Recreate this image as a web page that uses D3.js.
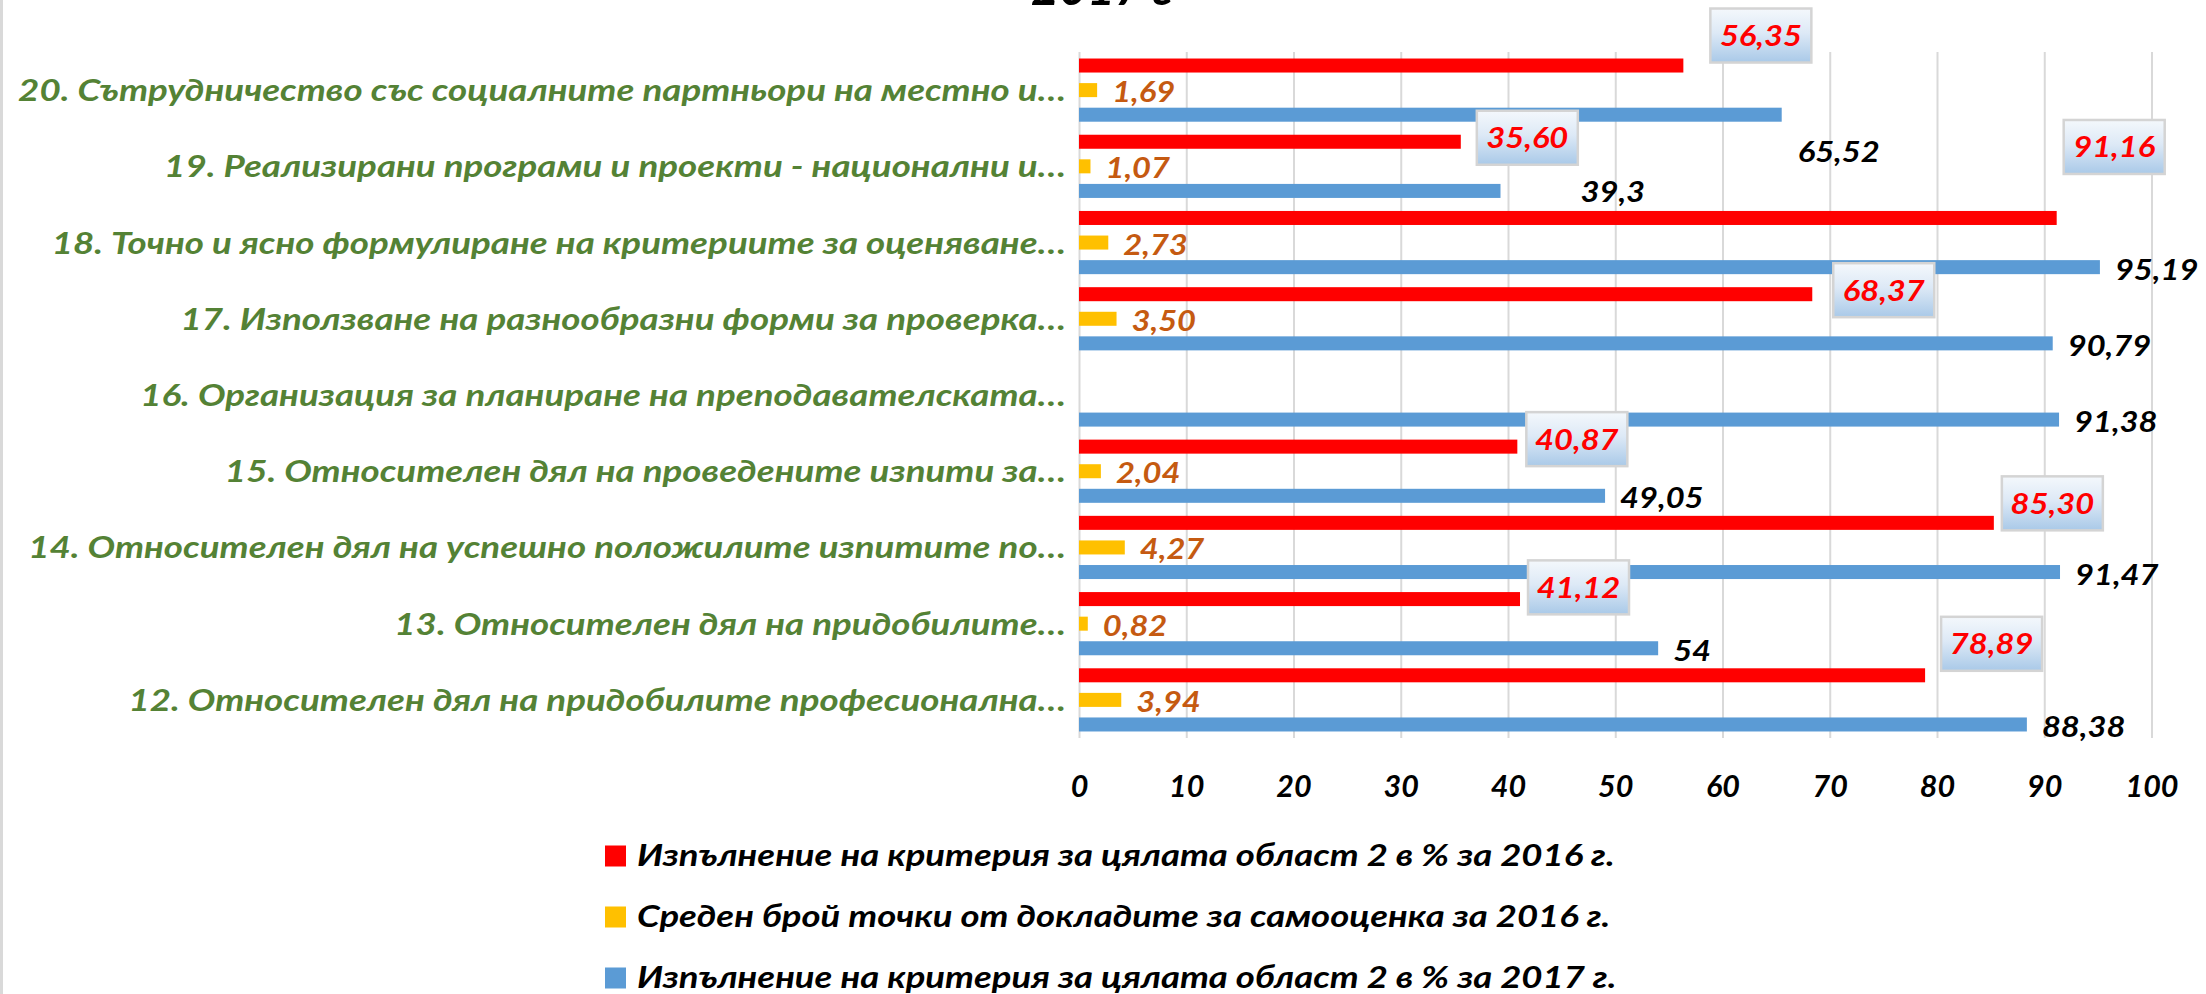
<!DOCTYPE html>
<html>
<head>
<meta charset="utf-8">
<script src="https://cdn.jsdelivr.net/npm/d3@7"></script>
<style>
  body { margin: 0; background: #fff; }
  svg text { font-family: Lato, "Open Sans", sans-serif; font-weight: bold; font-style: italic; }
</style>
</head>
<body>
<svg id="chart"></svg>
<script>
// categories, top to bottom
var categories = [
    "20. Сътрудничество със социалните партньори на местно и…",
    "19. Реализирани програми и проекти - национални и…",
    "18. Точно и ясно формулиране на критериите за оценяване…",
    "17. Използване на разнообразни форми за проверка…",
    "16. Организация за планиране на преподавателската…",
    "15. Относителен дял на проведените изпити за…",
    "14. Относителен дял на успешно положилите изпитите по…",
    "13. Относителен дял на придобилите…",
    "12. Относителен дял на придобилите професионална…"
];
var criteria2016 = [56.35, 35.60, 91.16, 68.37, null, 40.87, 85.30, 41.12, 78.89];
var points2016   = [1.69, 1.07, 2.73, 3.50, null, 2.04, 4.27, 0.82, 3.94];
var criteria2017 = [65.52, 39.3, 95.19, 90.79, 91.38, 49.05, 91.47, 54, 88.38];
var seriesNames = [
    "Изпълнение на критерия за цялата област 2 в % за 2016 г.",
    "Среден брой точки от докладите за самооценка за 2016 г.",
    "Изпълнение на критерия за цялата област 2 в % за 2017 г."
];
var xTicks = [0, 10, 20, 30, 40, 50, 60, 70, 80, 90, 100];
var titleText = "2017 г";

// hand placed labels (dx from bar end, dy from bar centre)
var redLabelShift = [[27, -30], [16, -4], [7, -71], [21, -4], null, [9, -7.5], [8, -19.5], [8, -11.7], [16, -31.5]];
var blueLabelShift = [[16, 37], [80, 1]];

var W = 2206, H = 994;
var colors = ["#ff0000", "#ffc000", "#5b9bd5"];

var svg = d3.select("svg#chart")
    .attr("width", W)
    .attr("height", H);

var x = d3.scaleLinear().domain([0, 100]).range([1079, 2151.5]);
var y = d3.scaleBand().domain(d3.range(categories.length)).range([52, 738]);
var sub = d3.scaleBand().domain([0, 1, 2]).range([0, y.bandwidth()])
    .paddingInner(0.43).paddingOuter(0.265);

var comma = function(s) { return s.replace(".", ","); };
var fmt2 = function(v) { return comma(d3.format(".2f")(v)); };

// the source font is wider than Lato, so stretch text sideways
// to the widths measured on the reference
function stretch(sel, sample, target) {
    var k = target / sample.node().getComputedTextLength();
    sel.each(function() {
        var t = d3.select(this);
        var px = +t.attr("x"), py = +t.attr("y");
        t.attr("x", 0).attr("y", 0)
            .attr("transform", "translate(" + px + "," + py + ") scale(" + k + ",1)");
    });
}

// gradient for the red label boxes
var grad = svg.append("defs").append("linearGradient")
    .attr("id", "boxGrad").attr("x1", 0).attr("y1", 0).attr("x2", 0).attr("y2", 1);
grad.append("stop").attr("offset", "0%").attr("stop-color", "#f4f8fc");
grad.append("stop").attr("offset", "45%").attr("stop-color", "#dde9f6");
grad.append("stop").attr("offset", "100%").attr("stop-color", "#a9c9e8");

// chart border on the left
svg.append("line").attr("x1", 1.5).attr("x2", 1.5).attr("y1", 0).attr("y2", H)
    .attr("stroke", "#d9d9d9").attr("stroke-width", 3);

// title (mostly cut off at the top)
var title = svg.append("text")
    .attr("x", 1031).attr("y", 5)
    .attr("font-size", 48)
    .attr("fill", "#000")
    .text(titleText);
stretch(title, title, 142);

// grid + tick labels
var xAxis = svg.append("g")
    .attr("transform", "translate(0,738)")
    .call(d3.axisBottom(x).tickValues(xTicks).tickSize(-686).tickFormat(d3.format("d")));
xAxis.select(".domain").remove();
xAxis.selectAll(".tick line").attr("stroke", "#d9d9d9").attr("stroke-width", 2);
var tickText = xAxis.selectAll(".tick text")
    .attr("y", 59).attr("dy", 0)
    .attr("font-size", 31)
    .attr("fill", "#000");
stretch(tickText, tickText.filter(function(d) { return d === 100; }), 53);

// category labels
var catText = svg.append("g")
    .selectAll("text")
    .data(categories)
    .enter()
    .append("text")
    .attr("x", 1066)
    .attr("y", function(d, i) { return y(i) + y.bandwidth() / 2 + 11; })
    .attr("text-anchor", "end")
    .attr("font-size", 31)
    .attr("fill", "#548235")
    .text(function(d) { return d; });
stretch(catText, catText.filter(function(d, i) { return i === 0; }), 1048);

var series = [criteria2016, points2016, criteria2017];

function barY(i, s) { return y(i) + sub(s); }

// bars
series.forEach(function(values, s) {
    var rows = values.map(function(v, i) { return {v: v, i: i}; })
        .filter(function(d) { return d.v != null; });
    svg.append("g")
        .selectAll("rect")
        .data(rows)
        .enter()
        .append("rect")
        .attr("x", x(0))
        .attr("y", function(d) { return barY(d.i, s); })
        .attr("width", function(d) { return x(d.v) - x(0); })
        .attr("height", sub.bandwidth())
        .attr("fill", colors[s]);
});

// red labels in boxes
var boxW = 101, boxH = 54;
var redG = svg.append("g");
criteria2016.forEach(function(v, i) {
    if (v == null) return;
    var sh = redLabelShift[i];
    var cx = x(v) + sh[0] + boxW / 2;
    var cy = barY(i, 0) + sub.bandwidth() / 2 + sh[1];
    redG.append("rect")
        .attr("x", cx - boxW / 2).attr("y", cy - boxH / 2)
        .attr("width", boxW).attr("height", boxH)
        .attr("fill", "url(#boxGrad)")
        .attr("stroke", "#d4d4d4").attr("stroke-width", 2.5);
    redG.append("text")
        .attr("class", "val")
        .attr("x", cx).attr("y", cy + 10.5)
        .attr("text-anchor", "middle")
        .attr("font-size", 29)
        .attr("fill", "#ff0000")
        .text(fmt2(v));
});

// yellow labels
points2016.forEach(function(v, i) {
    if (v == null) return;
    svg.append("text")
        .attr("class", "val")
        .attr("x", x(v) + 15)
        .attr("y", barY(i, 1) + sub.bandwidth() / 2 + 12)
        .attr("font-size", 29)
        .attr("fill", "#c55a11")
        .text(fmt2(v));
});

// blue labels
criteria2017.forEach(function(v, i) {
    var sh = blueLabelShift[i] || [15, 2];
    svg.append("text")
        .attr("class", "val")
        .attr("x", x(v) + sh[0])
        .attr("y", barY(i, 2) + sub.bandwidth() / 2 + sh[1] + 10.5)
        .attr("font-size", 29)
        .attr("fill", "#000")
        .text(comma(String(v)));
});
var valText = svg.selectAll("text.val");
stretch(valText, valText.filter(function() { return this.textContent === "56,35"; }), 82);

// legend
var legend = svg.append("g")
    .selectAll("g")
    .data(seriesNames)
    .enter()
    .append("g")
    .attr("transform", function(d, i) { return "translate(605," + (856 + i * 61) + ")"; });
legend.append("rect")
    .attr("x", 0).attr("y", -10.5)
    .attr("width", 21).attr("height", 21)
    .attr("fill", function(d, i) { return colors[i]; });
var legText = legend.append("text")
    .attr("x", 32).attr("y", 10)
    .attr("font-size", 31)
    .attr("fill", "#000")
    .text(function(d) { return d; });
stretch(legText, legText.filter(function(d, i) { return i === 0; }), 978);
</script>
</body>
</html>
